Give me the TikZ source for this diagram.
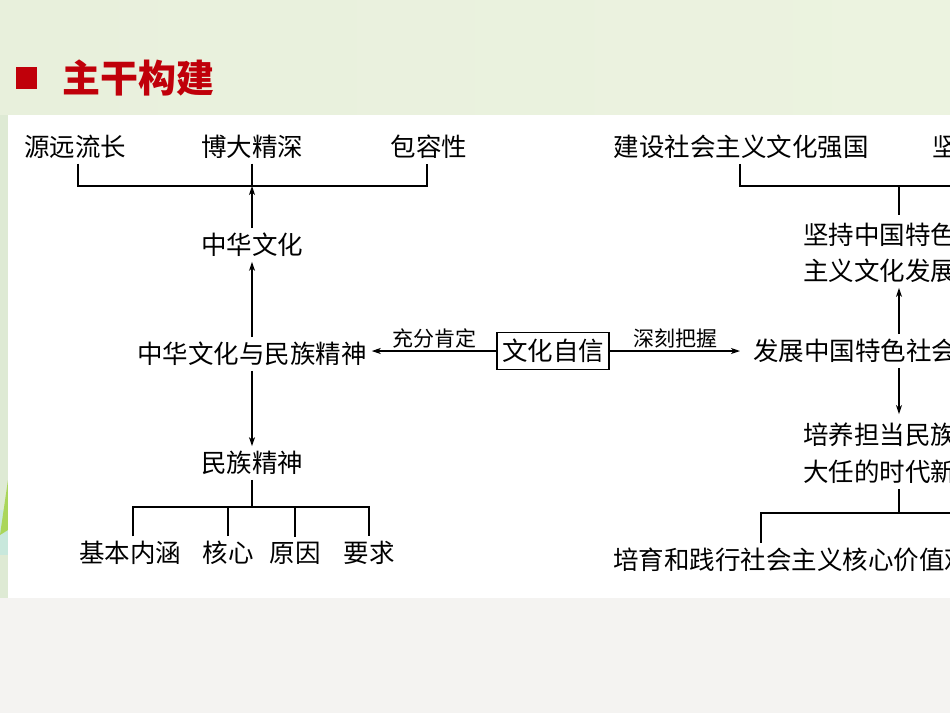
\documentclass[tikz,border=0pt]{standalone}
\usepackage{fontspec}
\newfontfamily\cjk{Noto Sans CJK SC}
\usetikzlibrary{arrows.meta}
\definecolor{bgtopL}{RGB}{232,240,220}
\definecolor{bgtopR}{RGB}{236,243,224}
\definecolor{bgstrip}{RGB}{222,234,212}
\definecolor{bggrey}{RGB}{244,243,241}
\definecolor{titlered}{RGB}{192,0,10}
\definecolor{leafgreen}{RGB}{170,214,90}
\definecolor{leafcyan}{RGB}{200,232,220}
\tikzset{
  txt/.style={font=\cjk\fontsize{25.5pt}{30pt}\selectfont, inner sep=0pt, outer sep=5pt, text=black},
  lbl/.style={font=\cjk\fontsize{21pt}{24pt}\selectfont, inner sep=0pt, outer sep=0pt, text=black},
  wbox/.style={draw, line width=1.2pt, minimum width=112pt, minimum height=37pt, inner sep=0pt, outer sep=0pt,
    font=\cjk\fontsize{25.5pt}{30pt}\selectfont},
  ln/.style={line width=1.2pt, black},
  arr/.style={ln, -{Stealth[length=9pt,width=6pt,inset=2.5pt]}},
  titletxt/.style={font=\cjk\bfseries\fontsize{38pt}{42pt}\selectfont, text=titlered, inner sep=0pt}
}
\begin{document}
\begin{tikzpicture}[x=1pt,y=1pt]
\useasboundingbox (0,0) rectangle (950,-713);
\clip (0,0) rectangle (950,-713);
% background
\shade[left color=bgtopL, right color=bgtopR] (0,0) rectangle (950,-115);
\fill[bgstrip] (0,-115) rectangle (8,-598);
\fill[leafcyan] (0,-510) rectangle (8,-555);
\fill[leafgreen] (0,-535) -- (8,-480) -- (8,-530) -- cycle;
\fill[bggrey] (0,-598) rectangle (950,-713);
\fill[white] (8,-115) rectangle (950,-598);
% title
\fill[titlered] (16,-67) rectangle (37,-89);
\node[titletxt, anchor=west] (title) at (62,-78) {主干构建};
% left part
\node[txt] (yylc) at (75,-147) {源远流长};
\node[txt] (bdjs) at (252,-147) {博大精深};
\node[txt] (brx) at (429,-147) {包容性};
\coordinate (bk1) at (252,-186);
\draw[ln] ([xshift=3pt]yylc.south) -- ([xshift=3pt]yylc.south |- bk1) -- ([xshift=-2pt]brx.south |- bk1) -- ([xshift=-2pt]brx.south);
\draw[ln] (bdjs.south) -- (bk1);
\node[txt] (zhwh) at (252,-245) {中华文化};
\draw[arr] (zhwh.north) -- (bk1);
\node[txt] (zhmz) at (252,-354) {中华文化与民族精神};
\draw[arr] (zhmz.north) -- (zhwh.south);
\node[txt] (mzjs) at (252,-463) {民族精神};
\draw[arr] (zhmz.south) -- (mzjs.north);
\coordinate (bk2) at (252,-507);
\node[txt] (jbnh) at (130,-553) {基本内涵};
\node[txt] (hx) at (228,-553) {核心};
\node[txt] (yy) at (295,-553) {原因};
\node[txt] (yq) at (369,-553) {要求};
\draw[ln] (mzjs.south) -- (bk2);
\draw[ln] ([xshift=3pt]jbnh.north) -- ([xshift=3pt]jbnh.north |- bk2) -- (yq.north |- bk2) -- (yq.north);
\draw[ln] (hx.north) -- (hx.north |- bk2);
\draw[ln] (yy.north) -- (yy.north |- bk2);
% centre box
\node[wbox] (whzx) at (553,-351) {文化自信};
\draw[arr] (whzx.west) -- (zhmz.east |- whzx.west) node[lbl, midway, above=3pt] {充分肯定};
% right part
\node[txt, anchor=west] (fzzg) at (748,-351) {发展中国特色社会};
\draw[arr, shorten >=8pt] (whzx.east) -- (fzzg.west) node[lbl, midway, xshift=-3pt, above=3pt] {深刻把握};
\node[txt] (jsqg) at (741,-147) {建设社会主义文化强国};
\node[txt, anchor=west] (jian) at (927,-147) {坚};
\coordinate (bk3) at (899,-186);
\coordinate (edge3) at (960,-186);
\draw[ln] ([xshift=-1pt]jsqg.south) -- ([xshift=-1pt]jsqg.south |- bk3) -- (edge3);
\node[txt, anchor=west] (jc1) at (798,-235) {坚持中国特色};
\node[txt, anchor=west] (jc2) at (798,-271) {主义文化发展};
\draw[ln, shorten >=3pt] (bk3) -- (bk3 |- jc1.north);
\draw[arr] (bk3 |- fzzg.north) -- (bk3 |- jc2.south);
\node[txt, anchor=west] (py1) at (798,-435) {培养担当民族};
\node[txt, anchor=west] (py2) at (798,-472) {大任的时代新};
\draw[arr, shorten >=4pt] (bk3 |- fzzg.south) -- (bk3 |- py1.north);
\coordinate (bk4) at (899,-513);
\coordinate (bk4l) at (761,-513);
\coordinate (edge4) at (960,-513);
\node[txt, anchor=west] (pyjx) at (608,-560) {培育和践行社会主义核心价值观};
\draw[ln] (bk4 |- py2.south) -- (bk4);
\draw[ln] (edge4) -- (bk4l) -- (bk4l |- pyjx.north);
\end{tikzpicture}
\end{document}
